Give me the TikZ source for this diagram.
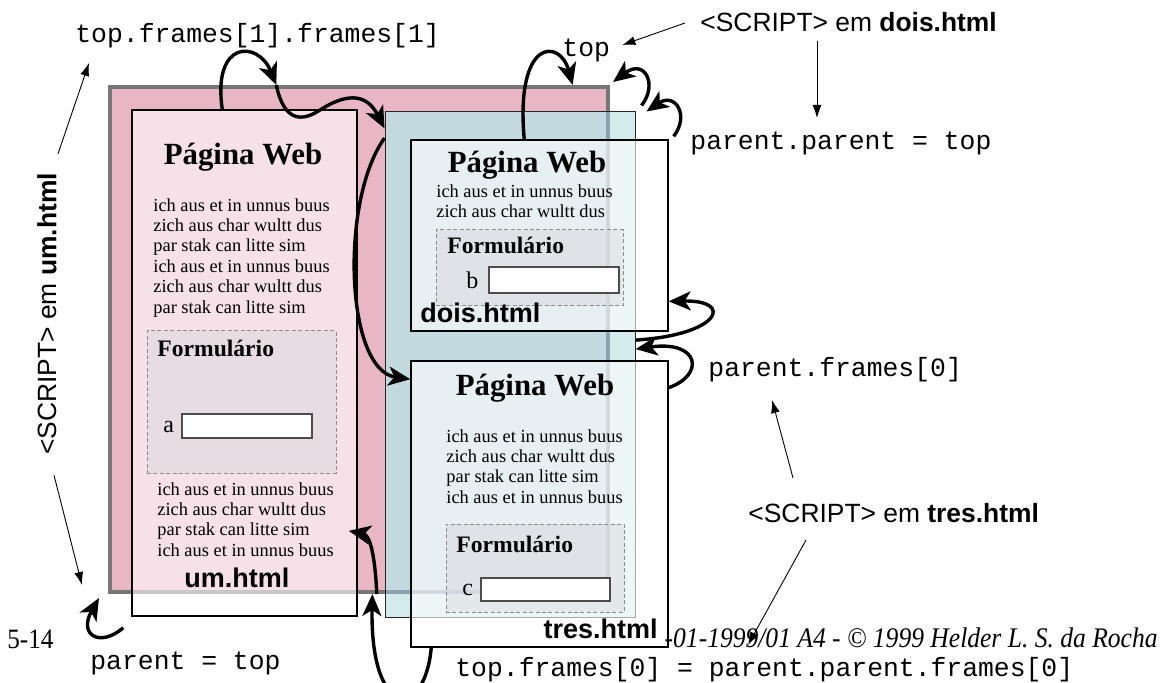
\documentclass[tikz,border=0pt]{standalone}
\usepackage{fontspec}
\setmainfont{Liberation Serif}
\setsansfont{Liberation Sans}
\setmonofont{Liberation Mono}
\newfontfamily\footfont[FakeStretch=0.9]{Liberation Serif}
\usetikzlibrary{arrows.meta,fit}
\definecolor{pinkfr}{RGB}{232,182,197}
\definecolor{bluefr}{RGB}{194,217,224}
\definecolor{cyanfr}{RGB}{212,235,236}
\definecolor{rimgray}{RGB}{118,118,118}
\definecolor{rimblue}{RGB}{140,162,176}
\definecolor{formfill}{RGB}{215,214,222}
\tikzset{
  web-page/.style={draw=black, line width=0.7pt, fill=white, fill opacity=0.6, inner sep=0pt, fit={#1}},
  web-form/.style={draw=black!45, dash pattern=on 2pt off 1.2pt, line width=0.5pt, fill=formfill, fill opacity=0.45, inner sep=0pt, fit={#1}},
  web-field/.style={draw=black!70, line width=0.6pt, fill=white, inner sep=0pt, fit={#1}},
  page-title/.style={font=\bfseries\fontsize{15.4}{18}\selectfont, inner sep=0pt, anchor=base},
  page-text/.style={font=\fontsize{9.2}{10.2}\selectfont, align=left, inner sep=0pt, anchor=north west},
  form-title/.style={font=\bfseries\fontsize{11.8}{14}\selectfont, inner sep=0pt, anchor=base west},
  field-name/.style={font=\fontsize{12}{14}\selectfont, inner sep=0pt, anchor=base west},
  file-name/.style={font=\sffamily\bfseries\fontsize{13.5}{16}\selectfont, inner sep=0pt},
  code-lbl/.style={font=\ttfamily\fontsize{13.2}{15}\selectfont, inner sep=0pt, anchor=base west},
  script-lbl/.style={font=\sffamily\fontsize{13.2}{15}\selectfont, inner sep=0pt},
  ref-arrow/.style={line width=1.7pt, -{Stealth[length=11pt,width=9.5pt,inset=3pt]}},
  note-arrow/.style={line width=0.45pt, -{Latex[length=6.5pt,width=4.5pt]}},
}
\begin{document}
\begin{tikzpicture}[x=0.5pt, y=-0.5pt]
\useasboundingbox (0,0) rectangle (1165,683);
% windows: top and the frame set
\node[fill=pinkfr, draw=rimgray, line width=2pt, inner sep=0pt, fit={(110,87) (608,592)}] (top-win) {};
\fill[cyanfr] (385,112) rectangle (635,617);
\fill[bluefr] (385,112) rectangle (608,592);
\draw[rimblue, line width=2pt] (385,592) -- (608,592) -- (608,112);
\node[draw=black!85, line width=0.5pt, inner sep=0pt, fit={(385,112) (635,617)}] (frame-set) {};
% pages
\node[web-page={(132,110) (357,616)}] (um-page) {};
\node[web-page={(411,140) (668,331)}] (dois-page) {};
\node[web-page={(411,361) (668,647)}] (tres-page) {};
\node[web-form={(147,331) (336,473)}] (um-form) {};
\node[web-form={(436,230) (623,306)}] (dois-form) {};
\node[web-form={(446,524) (624,612)}] (tres-form) {};
\node[web-field={(182,414) (312,438)}] (um-field) {};
\node[web-field={(489,267) (619,293)}] (dois-field) {};
\node[web-field={(481,578) (610,601)}] (tres-field) {};
% um.html
\node[page-title] (um-title) at (243,165) {Página Web};
\node[page-text] (um-text1) at (153,198) {ich aus et in unnus buus\\zich aus char wultt dus\\par stak can litte sim\\ich aus et in unnus buus\\zich aus char wultt dus\\par stak can litte sim};
\node[form-title] (um-form-title) at (157,357) {Formulário};
\node[field-name] (um-a) at (163,432) {a};
\node[page-text] (um-text2) at (157,482) {ich aus et in unnus buus\\zich aus char wultt dus\\par stak can litte sim\\ich aus et in unnus buus};
\node[file-name, anchor=base west] (um-file) at (184,587) {um.html};
% dois.html
\node[page-title] (dois-title) at (527,173) {Página Web};
\node[page-text] (dois-text) at (436,184) {ich aus et in unnus buus\\zich aus char wultt dus};
\node[form-title] (dois-form-title) at (447,254) {Formulário};
\node[field-name] (dois-b) at (466,289) {b};
\node[file-name, anchor=base west] (dois-file) at (420,323) {dois.html};
% tres.html
\node[page-title] (tres-title) at (535,395) {Página Web};
\node[page-text] (tres-text) at (446,429) {ich aus et in unnus buus\\zich aus char wultt dus\\par stak can litte sim\\ich aus et in unnus buus};
\node[form-title] (tres-form-title) at (456,552) {Formulário};
\node[field-name] (tres-c) at (462,595) {c};
\node[file-name, anchor=base east] (tres-file) at (658,638) {tres.html};
% labels
\node[code-lbl] (frames-path) at (75,43) {top.frames[1].frames[1]};
\node[code-lbl] (top-lbl) at (562,57) {top};
\node[script-lbl, anchor=base west] (dois-script) at (700,32) {<SCRIPT> em \textbf{dois.html}};
\node[code-lbl] (pp-top) at (690,150) {parent.parent = top};
\node[code-lbl] (pf-zero) at (708,377) {parent.frames[0]};
\node[script-lbl, anchor=base west] (tres-script) at (748,522) {<SCRIPT> em \textbf{tres.html}};
\node[script-lbl, rotate=90] (um-script) at (47,314) {<SCRIPT> em \textbf{um.html}};
\node[code-lbl] (p-top) at (90,669) {parent = top};
\node[code-lbl] (tf-zero) at (455,676) {top.frames[0] = parent.parent.frames[0]};
\node[font=\footfont\fontsize{14}{16}\selectfont, inner sep=0pt, anchor=base west] (pg-num) at (7,648) {5-14};
\node[font=\footfont\itshape\fontsize{14.2}{16}\selectfont, inner sep=0pt, anchor=base east] (footer) at (1158,647) {-01-1999/01 A4 - © 1999 Helder L. S. da Rocha};
% references
\draw[ref-arrow] (um-page.95.5) .. controls (212,40) and (258,40) .. (top-win.108.7);
\draw[ref-arrow] (top-win.108) .. controls (284,122) and (302,122) .. (320,110) .. controls (345,94) and (366,92) .. (frame-set.118);
\draw[ref-arrow] (frame-set.119) .. controls (340,200) and (345,370) .. (tres-page.136);
\draw[ref-arrow] (dois-page.99) .. controls (515,38) and (560,38) .. (top-win.50);
\draw[ref-arrow] ([shift={(6,-6)}]frame-set.north east) .. controls (658,85) and (645,58) .. ([shift={(3,-3)}]top-win.north east);
\draw[ref-arrow] ([shift={(5,-3)}]dois-page.north east) .. controls (690,115) and (675,92) .. ([shift={(11,0)}]frame-set.north east);
\draw[ref-arrow] (tres-page.42) .. controls (705,375) and (700,340) .. (frame-set.7);
\draw[ref-arrow] (frame-set.11) .. controls (720,335) and (735,300) .. (dois-page.-27);
\draw[ref-arrow] ([shift={(-8,11)}]um-page.south west) .. controls (100,648) and (78,635) .. ([shift={(-9,4)}]top-win.south west);
\draw[ref-arrow] (tres-page.-127) .. controls (425,720) and (370,720) .. (top-win.-87);
\draw[ref-arrow] (top-win.-86) .. controls (375,555) and (370,535) .. ([shift={(-9,0)}]um-page.-56);
% notes
\draw[note-arrow] ([shift={(11,-19)}]um-script.east) -- ([shift={(14,20)}]frames-path.base west);
\draw[note-arrow] ([shift={(7,20)}]um-script.west) -- ([shift={(-26,-9)}]top-win.south west);
\draw[note-arrow] ([shift={(-15,-9)}]dois-script.base west) -- ([shift={(12,-12)}]top-lbl.base east);
\draw[note-arrow] ([shift={(117,9)}]dois-script.base west) -- ([shift={(127,-32)}]pp-top.base west);
\draw[note-arrow] ([shift={(45,-44)}]tres-script.base west) -- ([shift={(64,23)}]pf-zero.base west);
\draw[note-arrow] ([shift={(58,18)}]tres-script.base west) -- ([shift={(293,-31)}]tf-zero.base west);
\end{tikzpicture}
\end{document}
